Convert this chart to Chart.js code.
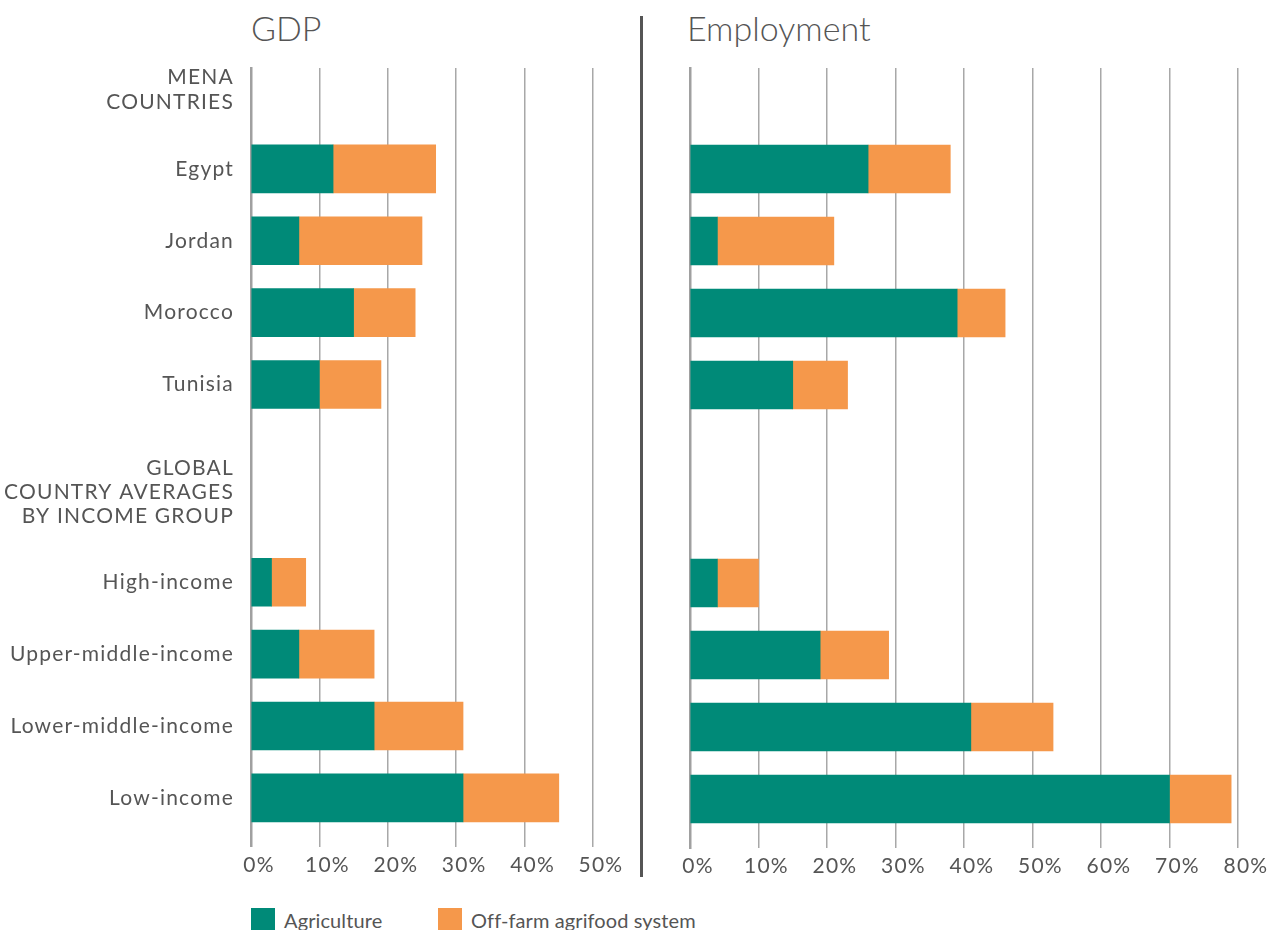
<!DOCTYPE html>
<html>
<head>
<meta charset="utf-8">
<script src="https://cdn.jsdelivr.net/npm/chart.js@4.4.1/dist/chart.umd.min.js"></script>
<style>
  body { margin: 0; background: #fff; width: 1272px; height: 930px; overflow: hidden; position: relative; font-family: Lato, sans-serif; color: #555; }
  .title { position: absolute; top: 8px; font-size: 34px; font-weight: 300; line-height: 40px; }
  .box { position: absolute; top: 0; }
  .divider { position: absolute; left: 640px; top: 16px; width: 3px; height: 861px; background: #555; }
  .legend { position: absolute; top: 908px; left: 251px; display: flex; font-size: 20px; letter-spacing: 0.1px; }
  .legend .item { display: flex; align-items: flex-start; }
  .legend .sw { width: 24px; height: 24px; margin-right: 9px; }
</style>
</head>
<body>
<div class="title" style="left:251px">GDP</div>
<div class="title" style="left:687px">Employment</div>
<div class="divider"></div>
<div class="box" style="left:0"><canvas id="gdpChart" width="623" height="888"></canvas></div>
<div class="box" style="left:650px"><canvas id="empChart" width="622" height="888"></canvas></div>
<div class="legend" id="legend"></div>

<script>
// categories
const categories = ['Egypt', 'Jordan', 'Morocco', 'Tunisia', 'High-income', 'Upper-middle-income', 'Lower-middle-income', 'Low-income'];
const groupHeaders = [['MENA', 'COUNTRIES'], ['GLOBAL', 'COUNTRY AVERAGES', 'BY INCOME GROUP']];
const seriesNames = ['Agriculture', 'Off-farm agrifood system'];

// share of GDP (%)
const gdpAgriculture = [12, 7, 15, 10, 3, 7, 18, 31];
const gdpOffFarm = [15, 18, 9, 9, 5, 11, 13, 14];

// share of employment (%)
const empAgriculture = [26, 4, 39, 15, 4, 19, 41, 70];
const empOffFarm = [12, 17, 7, 8, 6, 10, 12, 9];

// layout: row slots on the y scale (headers sit between bar groups)
const barRows = [1, 2, 3, 4, 6.75, 7.75, 8.75, 9.75];
const headerRows = [-0.1, 5.5];
const yMin = -0.403, yMax = 10.431;

const colors = ['#008a78', '#f5984b'];
const textColor = '#555';

// tick list and labels for the y axis
const tickRows = [headerRows[0], ...barRows.slice(0, 4), headerRows[1], ...barRows.slice(4)];
const tickLabels = [groupHeaders[0], ...categories.slice(0, 4), groupHeaders[1], ...categories.slice(4)];

// wider tracking on canvas text, closer to the original typeface
const spacingPlugin = {
    id: 'tracking',
    beforeLayout: chart => { chart.ctx.letterSpacing = '1.2px'; },
    beforeDraw: chart => { chart.ctx.letterSpacing = '1.2px'; }
};

function makeChart(id, agri, off, xMax, showLabels, yWidth, padRight) {
    const ctx = document.getElementById(id).getContext('2d');
    return new Chart(ctx, {
        type: 'bar',
        data: {
            datasets: [
                { label: seriesNames[0], data: agri.map((v, i) => ({ x: v, y: barRows[i] })), backgroundColor: colors[0] },
                { label: seriesNames[1], data: off.map((v, i) => ({ x: v, y: barRows[i] })), backgroundColor: colors[1] }
            ]
        },
        plugins: [spacingPlugin],
        options: {
            indexAxis: 'y',
            responsive: false,
            animation: false,
            barThickness: 48,
            layout: { padding: { top: 68, right: padRight, bottom: 0, left: 0 } },
            plugins: { legend: { display: false }, tooltip: { enabled: false } },
            scales: {
                x: {
                    stacked: true,
                    min: 0,
                    max: xMax,
                    grid: { color: '#a8a8a8', lineWidth: 1.5, drawTicks: false },
                    border: { display: false },
                    ticks: { stepSize: 10, padding: 6, labelOffset: 8, color: textColor, font: { family: 'Lato', size: 21 }, callback: v => v + '%' },
                    afterFit: s => { s.height = 40; }
                },
                y: {
                    type: 'linear',
                    stacked: true,
                    reverse: true,
                    offset: false,
                    min: yMin,
                    max: yMax,
                    grid: { display: false, drawTicks: false },
                    border: { display: true, color: '#a0a0a0', width: 2.5 },
                    afterBuildTicks: s => { s.ticks = tickRows.map(v => ({ value: v })); },
                    afterFit: s => { s.width = yWidth; },
                    ticks: {
                        display: showLabels,
                        autoSkip: false,
                        padding: 17,
                        color: textColor,
                        font: { family: 'Lato', size: 21, lineHeight: 1.15 },
                        callback: (v, i) => tickLabels[i]
                    }
                }
            }
        }
    });
}

const gdpChart = makeChart('gdpChart', gdpAgriculture, gdpOffFarm, 50, true, 251, 30);
const empChart = makeChart('empChart', empAgriculture, empOffFarm, 80, false, 40, 34);

// legend
const legend = document.getElementById('legend');
seriesNames.forEach((name, i) => {
    const item = document.createElement('div');
    item.className = 'item';
    item.style.width = i === 0 ? '187px' : 'auto';
    item.innerHTML = '<span class="sw" style="background:' + colors[i] + '"></span><span>' + name + '</span>';
    legend.appendChild(item);
});
</script>
</body>
</html>
